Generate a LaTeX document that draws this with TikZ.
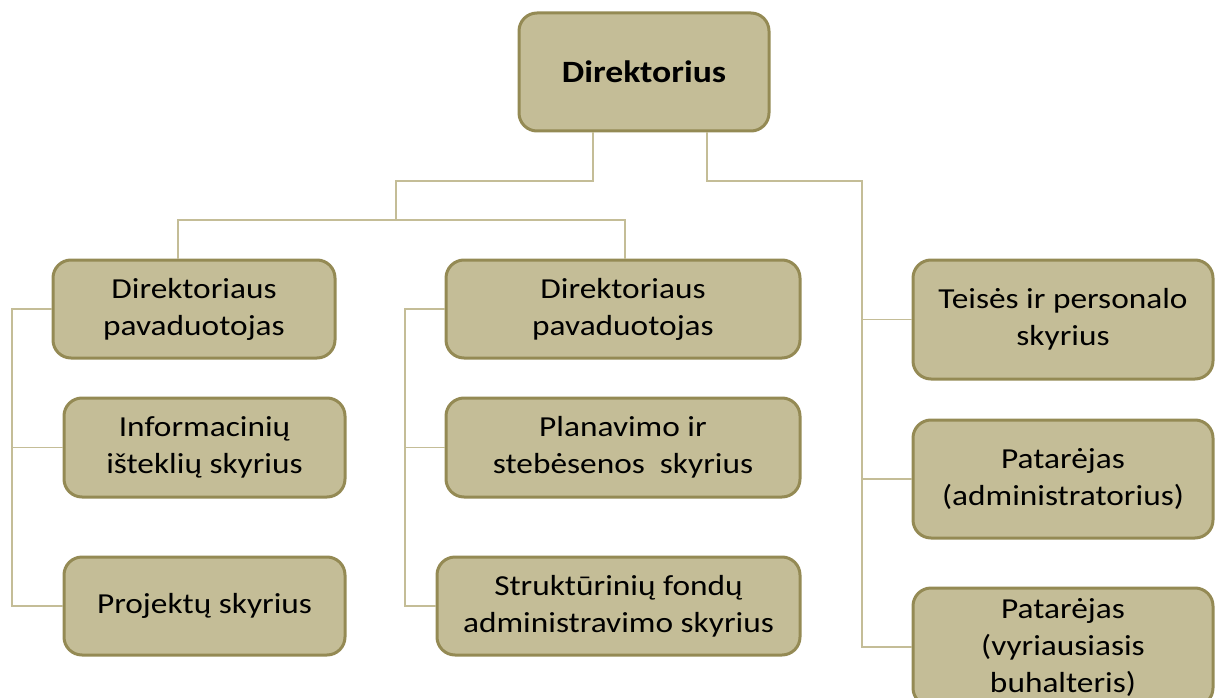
\documentclass[tikz,border=0pt]{standalone}
\usepackage{fontspec}
\setmainfont{Carlito}[FakeStretch=1.15]
\definecolor{boxfill}{HTML}{C4BD97}
\definecolor{boxedge}{HTML}{948A54}
\definecolor{linkcol}{HTML}{C4BD97}
\begin{document}
\begin{tikzpicture}[x=1pt,y=-1pt,
  unit/.style={draw=boxedge, line width=3pt, fill=boxfill, rounded corners=18pt,
    align=center, inner sep=0pt, font=\fontsize{29}{37}\selectfont, text=black},
  link/.style={draw=linkcol, line width=1.6pt}]
\useasboundingbox (0,0) rectangle (1215,698);
\begin{scope}
\clip (0,0) rectangle (1215,698);

% junction points of the tree lines
\coordinate (ja) at (593,181);
\coordinate (jb) at (396,181);
\coordinate (jc) at (396,220);
\coordinate (jl) at (178,220);
\coordinate (jm) at (625,220);
\coordinate (jr) at (707,181);
\coordinate (jr2) at (862,181);
\coordinate (sl) at (12,0);
\coordinate (sm) at (405,0);
\coordinate (sr) at (862,0);

% top
\node[unit, minimum width=250pt, minimum height=118pt, font=\fontsize{31}{37}\selectfont\bfseries] (dir) at (644,72) {Direktorius};

% left column
\node[unit, minimum width=282pt, minimum height=98pt] (l1) at (194,309) {Direktoriaus\\pavaduotojas};
\node[unit, minimum width=281pt, minimum height=99pt] (l2) at (204.5,447.5) {Informacinių\\išteklių skyrius};
\node[unit, minimum width=281pt, minimum height=98pt] (l3) at (204.5,606) {Projektų skyrius};

% middle column
\node[unit, minimum width=354pt, minimum height=98pt] (m1) at (623,309) {Direktoriaus\\pavaduotojas};
\node[unit, minimum width=354pt, minimum height=99pt] (m2) at (623,447.5) {Planavimo ir\\stebėsenos\ \ skyrius};
\node[unit, minimum width=363pt, minimum height=98pt] (m3) at (618.5,606) {Struktūrinių fondų\\administravimo skyrius};

% right column
\node[unit, minimum width=300pt, minimum height=119pt] (r1) at (1063,319.5) {Teisės ir personalo\\skyrius};
\node[unit, minimum width=300pt, minimum height=118pt] (r2) at (1063,479) {Patarėjas\\(administratorius)};
\node[unit, minimum width=300pt, minimum height=118pt] (r3) at (1063,647) {Patarėjas\\(vyriausiasis\\buhalteris)};

% connectors
\draw[link] (dir.south -| ja) -- (ja) -- (jb) -- (jc);
\draw[link] (jl |- l1.north) -- (jl) -- (jm) -- (jm |- m1.north);
\draw[link] (dir.south -| jr) -- (jr) -- (jr2) -- (sr |- r3.west) -- (r3.west);
\draw[link] (sr |- r1.west) -- (r1.west);
\draw[link] (sr |- r2.west) -- (r2.west);
\draw[link] (l1.west) -- (sl |- l1.west) -- (sl |- l3.west) -- (l3.west);
\draw[link] (sl |- l2.west) -- (l2.west);
\draw[link] (m1.west) -- (sm |- m1.west) -- (sm |- m3.west) -- (m3.west);
\draw[link] (sm |- m2.west) -- (m2.west);
\end{scope}
\end{tikzpicture}
\end{document}
